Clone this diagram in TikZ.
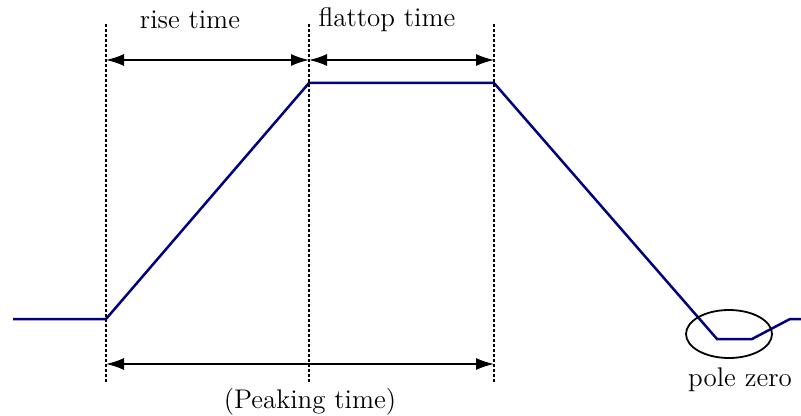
\documentclass[tikz,border=0pt]{standalone}
\usepackage{xcolor}
\usetikzlibrary{arrows.meta,positioning,shapes.geometric}

\definecolor{pulseblue}{RGB}{0,0,128}

\begin{document}
\begin{tikzpicture}[x=0.5pt,y=-0.5pt,
    pulse/.style={pulseblue, line width=1.25pt, line join=miter},
    guide/.style={dash pattern=on 1.5pt off 1pt, line width=0.6pt},
    span/.style={{Latex[length=9pt,width=6pt]}-{Latex[length=9pt,width=6pt]}, line width=0.8pt},
    lbl/.style={font=\fontsize{13.5}{16}\selectfont, inner sep=0pt}]
      \useasboundingbox (0,0) rectangle (801,416);

      % Shaped pulse
      \coordinate (base) at (13,319);
      \coordinate (start) at (106,319);
      \coordinate (topl) at (309,83);
      \coordinate (topr) at (494,83);
      \coordinate (undl) at (717,339);
      \coordinate (undr) at (752,339);
      \coordinate (back) at (790,319);
      \coordinate (tail) at (801,319);
      \draw[pulse] (base) -- (start) -- (topl) -- (topr) -- (undl) -- (undr) -- (back) -- (tail);

      % Guides
      \foreach \gx/\gn in {106/a, 309/b, 494/c} {
        \coordinate (up\gn) at (\gx,24);
        \coordinate (lo\gn) at (\gx,383);
        \coordinate (t\gn) at (\gx,60);
        \coordinate (p\gn) at (\gx,364);
        \draw[guide] (up\gn) -- (lo\gn);
      }

      % Time spans
      \draw[span] (ta) -- (tb);
      \draw[span] (tb) -- (tc);
      \draw[span] (pa) -- (pc);
      \node[lbl] (rise) at (190,20) {rise time};
      \node[lbl] (flat) at (387,20) {flattop time};
      \node[lbl] (peak) at (310,402) {(Peaking time)};

      % Pole zero
      \node[draw, ellipse, minimum width=43pt, minimum height=24pt, line width=0.9pt] (pz) at (729,334) {};
      \node[lbl] (pzlbl) at (740,380) {pole zero};
\end{tikzpicture}
\end{document}
